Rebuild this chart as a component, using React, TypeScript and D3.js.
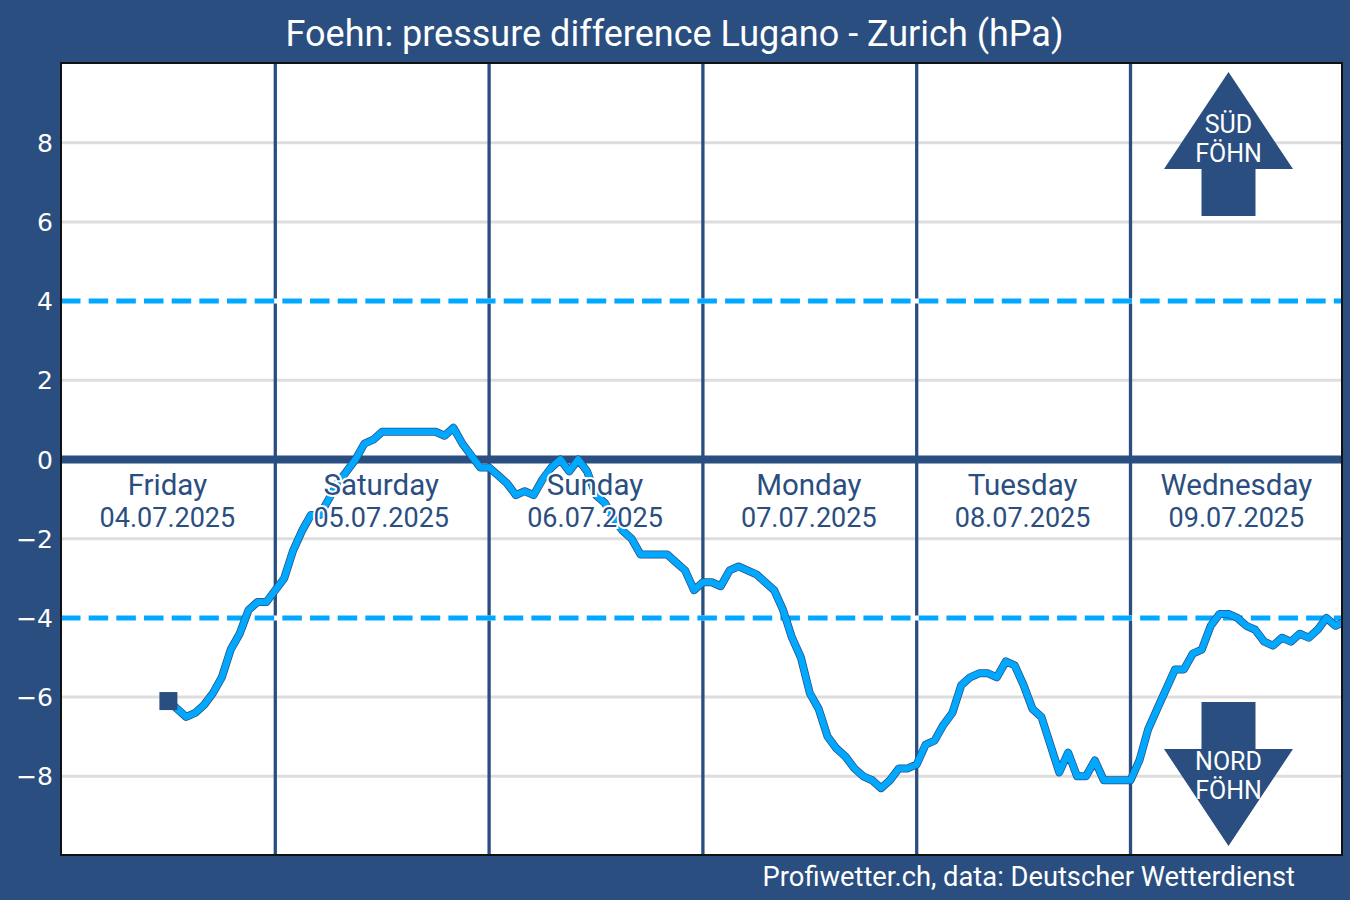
import * as d3 from "d3";
import { useEffect, useRef } from "react";

const width = 1350;
const height = 900;
const margin = { top: 63, right: 8, bottom: 45, left: 61 };

const navy = "#2a4e80";
const sky = "#00a8ff";

const title = "Foehn: pressure difference Lugano - Zurich (hPa)";
const credit = "Profiwetter.ch, data: Deutscher Wetterdienst";

const dayNames = ["Friday", "Saturday", "Sunday", "Monday", "Tuesday", "Wednesday"];
const dayDates = ["04.07.2025", "05.07.2025", "06.07.2025", "07.07.2025", "08.07.2025", "09.07.2025"];
const dayStarts = [24, 48, 72, 96, 120];
const gridTicks = [-8, -6, -4, -2, 2, 4, 6, 8];
const axisTicks = [-8, -6, -4, -2, 0, 2, 4, 6, 8];
const limits = [-4, 4];

// first reading is Friday 12:00, then one per hour
const firstHour = 12;
const pressureDiff = [
  -6.1, -6.3, -6.5, -6.4, -6.2, -5.9, -5.5, -4.8, -4.4, -3.8, -3.6, -3.6,
  -3.3, -3.0, -2.3, -1.8, -1.4, -1.4, -1.0, -0.6, -0.3, 0.0, 0.4, 0.5,
  0.7, 0.7, 0.7, 0.7, 0.7, 0.7, 0.7, 0.6, 0.8, 0.4, 0.1, -0.2,
  -0.2, -0.4, -0.6, -0.9, -0.8, -0.9, -0.5, -0.2, 0.0, -0.3, 0.0, -0.3,
  -0.9, -1.1, -1.5, -1.8, -2.0, -2.4, -2.4, -2.4, -2.4, -2.6, -2.8, -3.3,
  -3.1, -3.1, -3.2, -2.8, -2.7, -2.8, -2.9, -3.1, -3.3, -3.8, -4.5, -5.0,
  -5.9, -6.3, -7.0, -7.3, -7.5, -7.8, -8.0, -8.1, -8.3, -8.1, -7.8, -7.8,
  -7.7, -7.2, -7.1, -6.7, -6.4, -5.7, -5.5, -5.4, -5.4, -5.5, -5.1, -5.2,
  -5.7, -6.3, -6.5, -7.2, -7.9, -7.4, -8.0, -8.0, -7.6, -8.1, -8.1, -8.1,
  -8.1, -7.6, -6.8, -6.3, -5.8, -5.3, -5.3, -4.9, -4.8, -4.2, -3.9, -3.9,
  -4.0, -4.2, -4.3, -4.6, -4.7, -4.5, -4.6, -4.4, -4.5, -4.3, -4.0, -4.2,
  -4.1,
];

const x = d3.scaleLinear().domain([0, 144]).range([61.5, 1344.3]);
const y = d3.scaleLinear().domain([-10, 10]).range([height - margin.bottom + 0.5, margin.top + 0.5]);

// block arrow, tip pointing up (dir -1) or down (dir 1)
function arrowPath(cx: number, baseY: number, dir: number) {
  const p = d3.path();
  p.moveTo(cx, baseY + dir * 97);
  p.lineTo(cx + 64.5, baseY);
  p.lineTo(cx + 27, baseY);
  p.lineTo(cx + 27, baseY - dir * 47);
  p.lineTo(cx - 27, baseY - dir * 47);
  p.lineTo(cx - 27, baseY);
  p.lineTo(cx - 64.5, baseY);
  p.closePath();
  return p.toString();
}

export default function App() {
  const ref = useRef<SVGSVGElement | null>(null);

  useEffect(() => {
    const el = ref.current;
    if (!el) return;

    const svg = d3.select<SVGSVGElement, unknown>(el);
    svg.selectAll("*").remove();

    const font = "Roboto, sans-serif";
    const right = width - margin.right;
    const bottom = height - margin.bottom;

    svg.append("rect").attr("width", width).attr("height", height).attr("fill", navy);
    svg
      .append("rect")
      .attr("x", margin.left)
      .attr("y", margin.top)
      .attr("width", right - margin.left)
      .attr("height", bottom - margin.top)
      .attr("fill", "#fff");

    svg
      .append("clipPath")
      .attr("id", "plot-clip")
      .append("rect")
      .attr("x", margin.left)
      .attr("y", margin.top)
      .attr("width", right - margin.left)
      .attr("height", bottom - margin.top);

    const plot = svg.append("g").attr("clip-path", "url(#plot-clip)");

    plot
      .selectAll("line.grid")
      .data(gridTicks)
      .enter()
      .append("line")
      .attr("class", "grid")
      .attr("x1", margin.left)
      .attr("x2", right)
      .attr("y1", (d) => y(d))
      .attr("y2", (d) => y(d))
      .attr("stroke", "#dddddd")
      .attr("stroke-width", 3);

    plot
      .selectAll("line.day")
      .data(dayStarts)
      .enter()
      .append("line")
      .attr("class", "day")
      .attr("x1", (d) => x(d))
      .attr("x2", (d) => x(d))
      .attr("y1", margin.top)
      .attr("y2", bottom)
      .attr("stroke", navy)
      .attr("stroke-width", 3.3);

    plot
      .append("line")
      .attr("x1", margin.left)
      .attr("x2", right)
      .attr("y1", y(0))
      .attr("y2", y(0))
      .attr("stroke", navy)
      .attr("stroke-width", 8);

    limits.forEach((v) => {
      plot
        .append("line")
        .attr("x1", margin.left)
        .attr("x2", right)
        .attr("y1", y(v))
        .attr("y2", y(v))
        .attr("stroke", "#fff")
        .attr("stroke-width", 5);
      plot
        .append("line")
        .attr("x1", margin.left)
        .attr("x2", right)
        .attr("y1", y(v))
        .attr("y2", y(v))
        .attr("stroke", sky)
        .attr("stroke-width", 5)
        .attr("stroke-dasharray", "19.5,8.17");
    });

    const line = d3
      .line<number>()
      .x((_, i) => x(firstHour + i))
      .y((d) => y(d));

    plot
      .append("path")
      .attr("d", line(pressureDiff))
      .attr("fill", "none")
      .attr("stroke", navy)
      .attr("stroke-width", 8)
      .attr("stroke-linejoin", "round");
    plot
      .append("path")
      .attr("d", line(pressureDiff))
      .attr("fill", "none")
      .attr("stroke", sky)
      .attr("stroke-width", 6.5)
      .attr("stroke-linejoin", "round");

    plot
      .append("rect")
      .attr("x", x(firstHour) - 9)
      .attr("y", y(pressureDiff[0]) - 9)
      .attr("width", 18)
      .attr("height", 18)
      .attr("fill", navy);

    const labels = plot.append("g").attr("font-family", font).attr("text-anchor", "middle");
    const halo = (t: d3.Selection<SVGTextElement, string, any, any>) =>
      t
        .attr("x", (_, i) => x(i * 24 + 12) - 1)
        .attr("fill", navy)
        .attr("stroke", "#fff")
        .attr("stroke-width", 4)
        .attr("paint-order", "stroke")
        .text((d) => d);

    labels
      .selectAll("text.name")
      .data(dayNames)
      .enter()
      .append("text")
      .attr("class", "name")
      .attr("y", 495)
      .attr("font-size", 29.5)
      .call(halo);
    labels
      .selectAll("text.date")
      .data(dayDates)
      .enter()
      .append("text")
      .attr("class", "date")
      .attr("y", 527)
      .attr("font-size", 27)
      .call(halo);

    const arrowX = 1228.5;
    plot.append("path").attr("d", arrowPath(arrowX, 169, -1)).attr("fill", navy);
    plot.append("path").attr("d", arrowPath(arrowX, 749, 1)).attr("fill", navy);

    const arrowText = plot
      .append("g")
      .attr("font-family", font)
      .attr("font-size", 25)
      .attr("text-anchor", "middle")
      .attr("fill", "#fff");
    arrowText.append("text").attr("x", arrowX).attr("y", 133).text("SÜD");
    arrowText.append("text").attr("x", arrowX).attr("y", 162).text("FÖHN");
    arrowText.append("text").attr("x", arrowX).attr("y", 770).text("NORD");
    arrowText.append("text").attr("x", arrowX).attr("y", 799).text("FÖHN");

    svg
      .append("rect")
      .attr("x", margin.left)
      .attr("y", margin.top)
      .attr("width", right - margin.left)
      .attr("height", bottom - margin.top)
      .attr("fill", "none")
      .attr("stroke", "#111")
      .attr("stroke-width", 2);

    svg
      .append("g")
      .attr("transform", `translate(${margin.left},0.5)`)
      .call(d3.axisLeft(y).tickValues(axisTicks).tickSize(0).tickPadding(8))
      .call((g) => g.select(".domain").remove())
      .call((g) =>
        g.selectAll("text").attr("fill", "#fff").attr("font-family", "'DejaVu Sans', sans-serif").attr("font-size", 25)
      );

    svg
      .append("text")
      .attr("x", 674.5)
      .attr("y", 46)
      .attr("text-anchor", "middle")
      .attr("font-family", font)
      .attr("font-size", 36)
      .attr("fill", "#fff")
      .text(title);

    svg
      .append("text")
      .attr("x", 1295)
      .attr("y", 886)
      .attr("text-anchor", "end")
      .attr("font-family", font)
      .attr("font-size", 27.3)
      .attr("fill", "#fff")
      .text(credit);
  }, []);

  return <svg ref={ref} width={width} height={height} style={{ position: "fixed", top: 0, left: 0, display: "block" }} />;
}
